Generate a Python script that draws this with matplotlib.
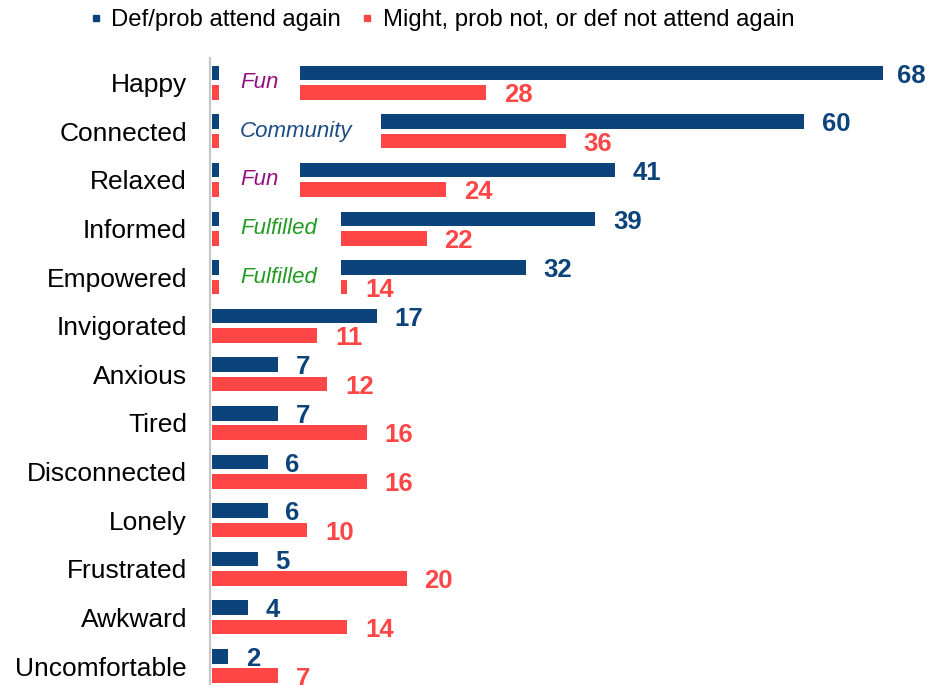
import numpy as np
import matplotlib
matplotlib.use('Agg')
import matplotlib.pyplot as plt
from matplotlib.lines import Line2D

plt.rcParams['font.family'] = ['Liberation Sans', 'DejaVu Sans']

# ---------------------------------------------------------------------------
# data
# ---------------------------------------------------------------------------
feelings = ['Happy', 'Connected', 'Relaxed', 'Informed', 'Empowered',
            'Invigorated', 'Anxious', 'Tired', 'Disconnected', 'Lonely',
            'Frustrated', 'Awkward', 'Uncomfortable']
attend_again = [68, 60, 41, 39, 32, 17, 7, 7, 6, 6, 5, 4, 2]
not_attend = [28, 36, 24, 22, 14, 11, 12, 16, 16, 10, 20, 14, 7]
series_names = ['Def/prob attend again',
                'Might, prob not, or def not attend again']

# themed call-outs written into a gap at the start of the top bars
theme_words = ['Fun', 'Community', 'Fun', 'Fulfilled', 'Fulfilled']
theme_gap_end = [9.3, 17.4, 9.3, 13.4, 13.4]

# ---------------------------------------------------------------------------
# style
# ---------------------------------------------------------------------------
BLUE = '#0B437A'
RED = '#FF4646'
THEME_COLORS = {'Fun': '#960E7E', 'Community': '#1B4C86', 'Fulfilled': '#1F9B1F'}
BAR_H = 0.30
OFFSET = 0.20
BAR_BASE = 0.42   # bars start just right of the axis line

fig = plt.figure(figsize=(9.28, 6.85), dpi=100)
ax = fig.add_axes([210 / 928, 0, 718 / 928, (685 - 58.3) / 685])

y = np.arange(len(feelings))
a = np.array(attend_again, dtype=float)
b = np.array(not_attend, dtype=float)

ax.barh(y - OFFSET, a - BAR_BASE, left=BAR_BASE, height=BAR_H, color=BLUE)
ax.barh(y + OFFSET, b - BAR_BASE, left=BAR_BASE, height=BAR_H, color=RED)

# white gaps + italic theme words
stub_end = 1.1
for i, (word, gap_end) in enumerate(zip(theme_words, theme_gap_end)):
    ax.barh(y[i], gap_end - stub_end, left=stub_end, height=0.85,
            color='white', zorder=3)
    ax.text(3.2, y[i], word, fontsize=16, fontstyle='italic',
            color=THEME_COLORS[word], ha='left', va='center', zorder=4)

# value labels
for i in range(len(feelings)):
    off_a = 9.5 if a[i] == a.max() else 12.8
    ax.annotate(f'{attend_again[i]:g}', (a[i], y[i] - OFFSET),
                xytext=(off_a, -2), textcoords='offset points',
                ha='left', va='center', fontsize=18.5, fontweight='bold',
                color=BLUE, annotation_clip=False)
    ax.annotate(f'{not_attend[i]:g}', (b[i], y[i] + OFFSET),
                xytext=(12.8, -2), textcoords='offset points',
                ha='left', va='center', fontsize=18.5, fontweight='bold',
                color=RED, annotation_clip=False)

ax.set_xlim(0.19, 72.5)
ax.set_ylim(12.39, -0.502)
ax.set_yticks(y)
ax.set_yticklabels(feelings, fontsize=19)
ax.tick_params(axis='y', length=0, pad=16.5)
ax.set_xticks([])

for s in ['top', 'right', 'bottom']:
    ax.spines[s].set_visible(False)
ax.spines['left'].set_color('#C8C8C8')
ax.spines['left'].set_linewidth(1.6)

# legend
handles = [Line2D([], [], linestyle='none', marker='s', markersize=5,
                  color=c) for c in (BLUE, RED)]
fig.legend(handles, series_names, loc='center', ncol=2,
           bbox_to_anchor=(442 / 928, 1 - 20 / 685), frameon=False,
           fontsize=17.2, handlelength=0.5, handletextpad=0.4,
           columnspacing=0.85, borderaxespad=0)

fig.savefig('out.png', dpi=100, facecolor='white')
